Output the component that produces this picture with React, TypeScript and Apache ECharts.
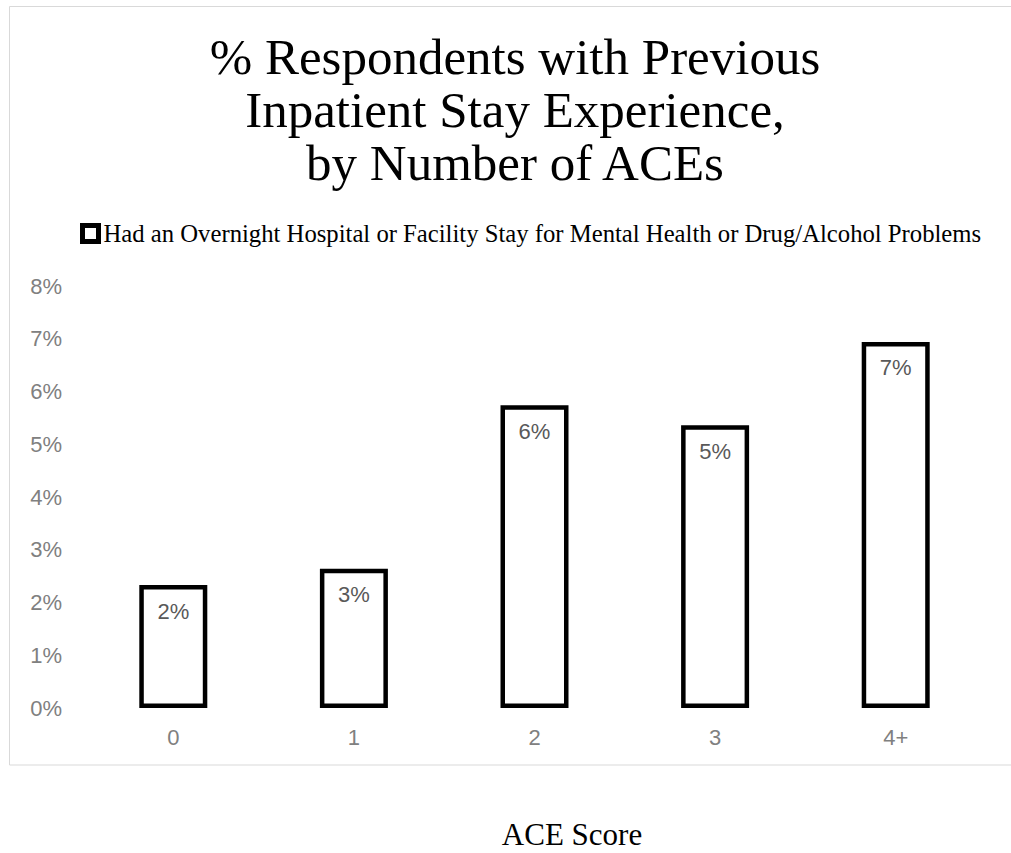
import React, { useEffect, useRef } from "react";
import * as echarts from "echarts";

const titleLines = [
  "% Respondents with Previous",
  "Inpatient Stay Experience,",
  "by Number of ACEs",
];
const seriesName =
  "Had an Overnight Hospital or Facility Stay for Mental Health or Drug/Alcohol Problems";
const categories = ["0", "1", "2", "3", "4+"];
const values = [2.33, 2.64, 5.74, 5.36, 6.94];
const xAxisTitle = "ACE Score";

const SERIF = "Liberation Serif";
const SANS = "Liberation Sans";

export default function App() {
  const ref = useRef<HTMLDivElement>(null);
  useEffect(() => {
    if (!ref.current) return;
    const chart = echarts.init(ref.current, undefined, { renderer: "svg" });
    const titleGraphics = titleLines.map((line, i) => ({
      type: "text",
      silent: true,
      x: 515,
      y: 57 + i * 53,
      style: {
        text: line,
        fontFamily: SERIF,
        fontSize: 51,
        fontWeight: "normal",
        fill: "#000000",
        align: "center",
        verticalAlign: "middle",
      },
    }));
    chart.setOption({
      animation: false,
      backgroundColor: "#ffffff",
      legend: {
        left: 80,
        top: 221,
        padding: 0,
        itemWidth: 16,
        itemHeight: 16,
        icon: "rect",
        itemStyle: { color: "#ffffff", borderColor: "#000000", borderWidth: 5 },
        textStyle: {
          fontFamily: SERIF,
          fontSize: 24.7,
          color: "#000000",
          padding: [0, 0, 0, 0],
        },
        data: [seriesName],
      },
      graphic: [
        {
          type: "rect",
          silent: true,
          z: -1,
          shape: { x: 9.5, y: 6.5, width: 1010, height: 758.5 },
          style: { fill: "none", stroke: "#d9d9d9", lineWidth: 1 },
        },
        ...titleGraphics,
      ],
      grid: {
        left: 83,
        right: 25,
        top: 286,
        bottom: 145,
        containLabel: false,
        outerBoundsMode: "none",
      },
      xAxis: {
        type: "category",
        data: categories,
        axisLine: { show: false },
        axisTick: { show: false },
        axisLabel: {
          fontFamily: SANS,
          fontSize: 22,
          color: "#808080",
          margin: 18,
        },
        name: xAxisTitle,
        nameLocation: "middle",
        nameGap: 111,
        nameTextStyle: {
          fontFamily: SERIF,
          fontSize: 31,
          color: "#000000",
          padding: [0, 0, 0, 75],
        },
      },
      yAxis: {
        type: "value",
        min: 0,
        max: 8,
        interval: 1,
        axisLine: { show: false },
        axisTick: { show: false },
        splitLine: { show: false },
        axisLabel: {
          formatter: "{value}%",
          fontFamily: SANS,
          fontSize: 22,
          color: "#808080",
          margin: 21,
        },
      },
      series: [
        {
          name: seriesName,
          type: "bar",
          data: values,
          barWidth: 68,
          itemStyle: { color: "#ffffff", borderColor: "#000000", borderWidth: 4.5 },
          label: {
            show: true,
            position: "insideTop",
            distance: 15,
            formatter: (p: any) => Math.round(p.value) + "%",
            fontFamily: SANS,
            fontSize: 22,
            color: "#595959",
          },
        },
      ],
    });
    return () => chart.dispose();
  }, []);
  return (
    <div
      ref={ref}
      style={{ position: "absolute", left: 0, top: 0, width: 1011, height: 853 }}
    />
  );
}
